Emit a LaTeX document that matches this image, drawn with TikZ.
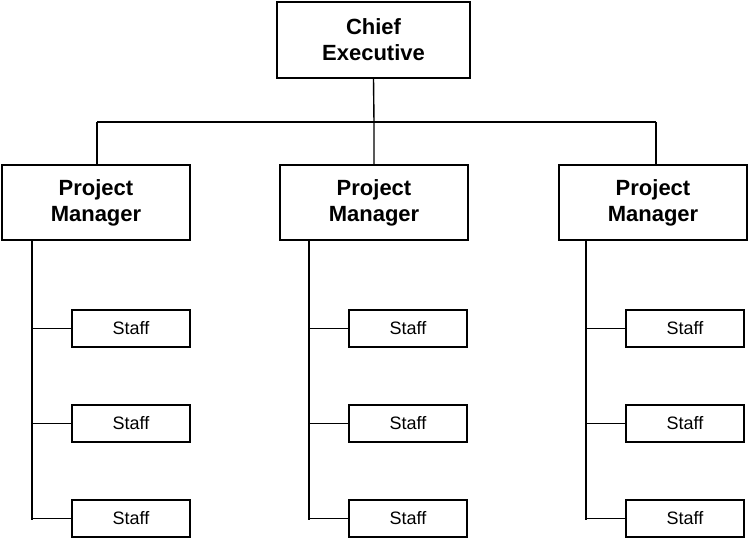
\documentclass[tikz,border=0pt]{standalone}
\usepackage{fontspec}
\setmainfont{Liberation Sans}
\begin{document}
\begin{tikzpicture}[x=1pt,y=-1pt,
  line width=1.4pt,
  bigbox/.style={draw,minimum width=188pt,minimum height=75pt,align=center,font=\bfseries\fontsize{22}{26}\selectfont,inner sep=0pt},
  staffbox/.style={draw,minimum width=118pt,minimum height=37pt,font=\fontsize{18}{21}\selectfont,inner sep=0pt},
  conn/.style={line width=1.4pt}]
\useasboundingbox (0,0) rectangle (750,540);
\node[bigbox,minimum width=193pt,minimum height=76pt] (ce) at (373.5,40) {Chief\\Executive};
\node[bigbox] (pm1) at (96,202.5) {Project\\Manager};
\node[bigbox] (pm2) at (374,202.5) {Project\\Manager};
\node[bigbox] (pm3) at (653,202.5) {Project\\Manager};
\coordinate (bL) at (97,122);
\coordinate (bM) at (374,122);
\coordinate (bR) at (656,122);
\draw[conn] (bL) -- (bR);
\draw[conn] (ce.south) -- (bM) -- (pm2.north);
\draw[conn] (bL) -- (bL |- pm1.north);
\draw[conn] (bR) -- (bR |- pm3.north);
\foreach \p/\vx/\sx in {1/32/131, 2/309/408, 3/586/685} {
  \node[staffbox] (s\p a) at (\sx,328.5) {Staff};
  \node[staffbox] (s\p b) at (\sx,423.5) {Staff};
  \node[staffbox] (s\p c) at (\sx,518.5) {Staff};
  \coordinate (v\p) at (\vx,240);
  \coordinate (e\p) at (\vx,520);
  \draw[conn] (v\p) -- (e\p);
  \draw[conn] (\vx,328.5) -- (s\p a.west);
  \draw[conn] (\vx,423.5) -- (s\p b.west);
  \draw[conn] (\vx,518.5) -- (s\p c.west);
}
\end{tikzpicture}
\end{document}
